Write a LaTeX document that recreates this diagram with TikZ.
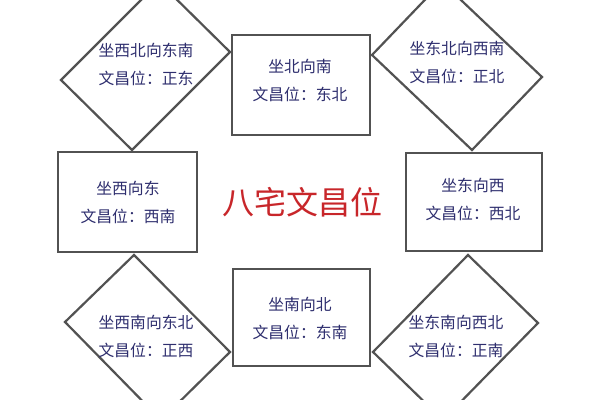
\documentclass[tikz,border=0pt]{standalone}
\usepackage{fontspec}
\newfontfamily\cjk{Noto Sans CJK SC}
\definecolor{txt}{HTML}{2E2E6E}
\definecolor{ttlc}{HTML}{C8262A}
\begin{document}
\begin{tikzpicture}[x=0.5pt,y=-0.5pt,
  shp/.style={draw=black!68,line width=1.1pt},
  lbl/.style={text=txt,font=\cjk\fontsize{7.9}{14}\selectfont,align=center,inner sep=0pt},
  ttl/.style={text=ttlc,font=\cjk\fontsize{16}{18}\selectfont,inner sep=0pt}]
\useasboundingbox[fill=white] (0,0) rectangle (600,400);
% boxes
\draw[shp] (232,35) rectangle (370,135);
\draw[shp] (58,152) rectangle (197,252);
\draw[shp] (406,153) rectangle (542,251);
\draw[shp] (233,269) rectangle (370,366);
% diamonds
\draw[shp] (61,80) -- (159,-18) -- (230,52) -- (132,150) -- cycle;
\draw[shp] (372,55) -- (442,-18) -- (542,77) -- (472,150) -- cycle;
\draw[shp] (134,255) -- (230,352) -- (161,420) -- (65,322) -- cycle;
\draw[shp] (468,255) -- (538,323) -- (443,420) -- (373,352) -- cycle;
% texts
\node[lbl] (tl) at (146,64) {坐西北向东南\\文昌位：正东};
\node[lbl] (tc) at (300,81) {坐北向南\\文昌位：东北};
\node[lbl] (tr) at (457,62) {坐东北向西南\\文昌位：正北};
\node[lbl] (ml) at (128,202) {坐西向东\\文昌位：西南};
\node[lbl] (mr) at (473,199) {坐东向西\\文昌位：西北};
\node[lbl] (bc) at (300,318) {坐南向北\\文昌位：东南};
\node[lbl] (bl) at (146,336) {坐西南向东北\\文昌位：正西};
\node[lbl] (br) at (456,336) {坐东南向西北\\文昌位：正南};
\node[ttl] (t) at (302,202) {八宅文昌位};
\end{tikzpicture}
\end{document}
